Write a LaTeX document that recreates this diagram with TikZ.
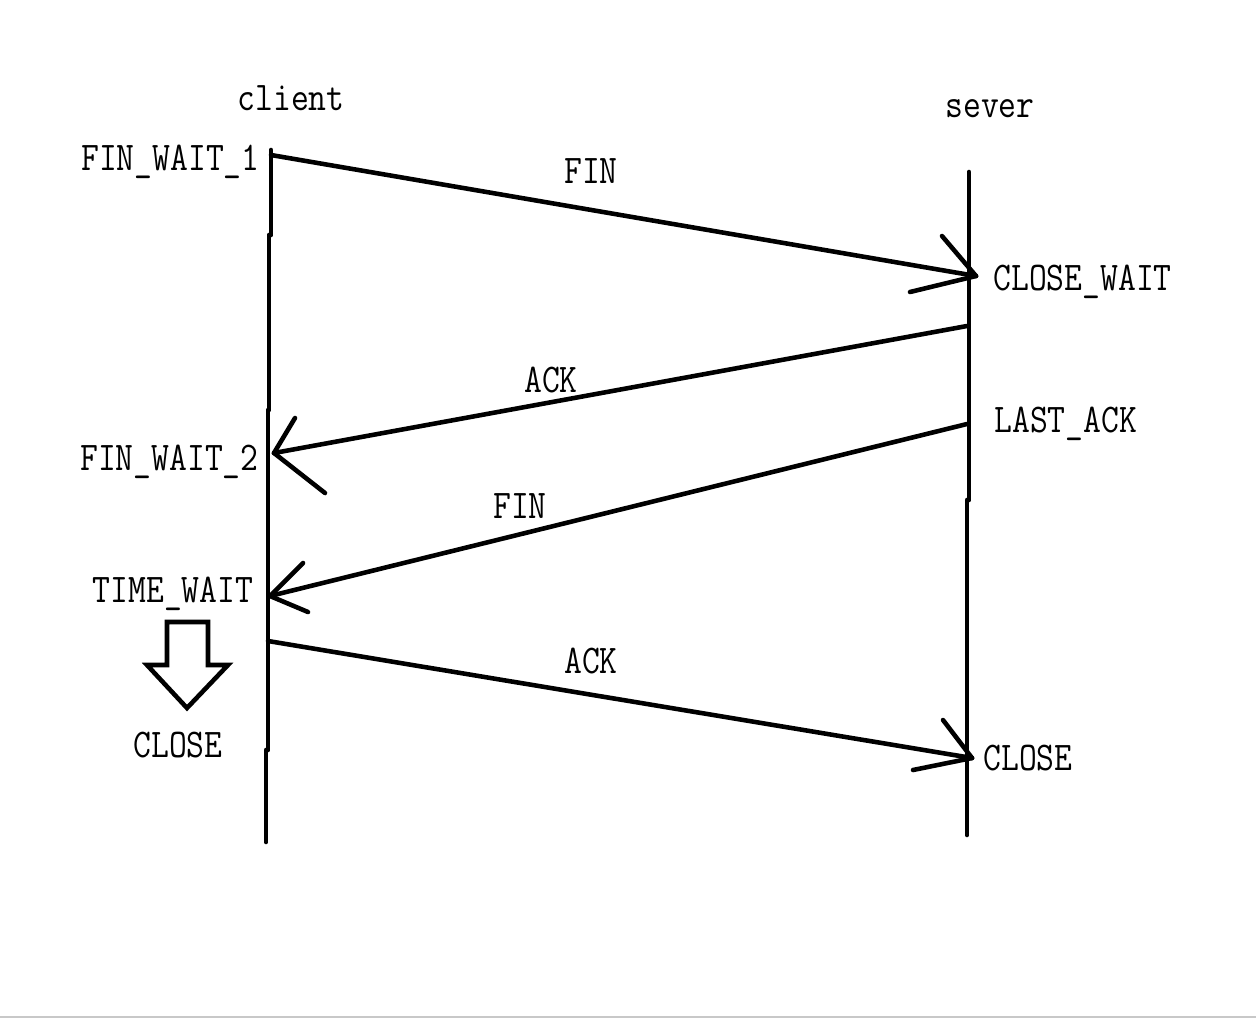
\documentclass[tikz,border=0pt]{standalone}
\usetikzlibrary{positioning}
\newcommand{\narrow}[1]{\scalebox{0.85}[1]{#1}}

\begin{document}
\begin{tikzpicture}[x=0.02cm, y=-0.02cm, font=\ttfamily\fontsize{23.2}{28}\selectfont]
  \useasboundingbox (0,0) rectangle (1256,1018);
  \tikzset{pen/.style={line width=2.6pt, line cap=round, line join=round}, lbl/.style={inner sep=0pt}}
  % ---- lifelines (hand drawn, with small jogs) ----
  \foreach \n/\xa/\ya/\xb/\yb in {c1/271/150/271/235, c2/269/235/269/410, c3/268/410/268/750, c4/266/750/266/842,
                                  s1/969/172/969/500, s2/967/500/967/835} {
    \coordinate (\n a) at (\xa,\ya);
    \coordinate (\n b) at (\xb,\yb);
    \draw[pen] (\n a) -- (\n b);
  }
  \node[lbl, anchor=base] (client) at (291,110) {\narrow{client}};
  \node[lbl, anchor=base] (sever) at (990,117) {\narrow{sever}};
  % ---- messages ----
  \coordinate (fin1s) at (271,155);  \coordinate (fin1t) at (976,276);
  \coordinate (ack1s) at (967,326);  \coordinate (ack1t) at (274,453);
  \coordinate (fin2s) at (967,424);  \coordinate (fin2t) at (270,596);
  \coordinate (ack2s) at (268,641);  \coordinate (ack2t) at (972,758);
  \foreach \m in {fin1, ack1, fin2, ack2}
    \draw[pen] (\m s) -- (\m t);
  \foreach \t/\ux/\uy/\lx/\ly in {fin1t/-34/-40/-66/16, ack1t/21/-35/51/40, fin2t/33/-33/38/16, ack2t/-29/-38/-59/12} {
    \draw[pen] (\t) -- ++(\ux,\uy);
    \draw[pen] (\t) -- ++(\lx,\ly);
  }
  \node[lbl, anchor=base] (finA) at (591,183) {\narrow{FIN}};
  \node[lbl, anchor=base] (ackA) at (551,392) {\narrow{ACK}};
  \node[lbl, anchor=base] (finB) at (520,518) {\narrow{FIN}};
  \node[lbl, anchor=base] (ackB) at (591,673) {\narrow{ACK}};
  % ---- states ----
  \node[lbl, anchor=base east] (fw1) at (260,170) {\narrow{FIN\_WAIT\_1}};
  \node[lbl, anchor=base east] (fw2) at (259,470) {\narrow{FIN\_WAIT\_2}};
  \node[lbl, anchor=base] (tw) at (173,602) {\narrow{TIME\_WAIT}};
  \node[lbl, anchor=base] (cclose) at (178,757) {\narrow{CLOSE}};
  \node[lbl, anchor=base west] (cw) at (993,290) {\narrow{CLOSE\_WAIT}};
  \node[lbl, anchor=base west] (la) at (994,432) {\narrow{LAST\_ACK}};
  \node[lbl, anchor=base west] (sclose) at (983,770) {\narrow{CLOSE}};
  % ---- block arrow TIME_WAIT -> CLOSE ----
  \draw[pen, line join=miter] (167,622) -- (208,622) -- (208,665) -- (228,665) -- (187,708) -- (147,665) -- (167,665) -- cycle;
  \fill[gray!43] (0,1015.7) rectangle (1256,1017.8);
\end{tikzpicture}
\end{document}
